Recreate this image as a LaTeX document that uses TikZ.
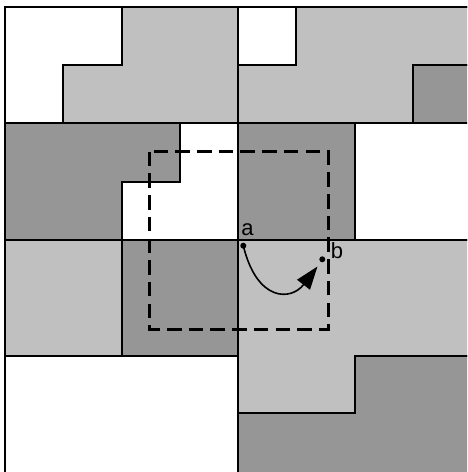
\documentclass[tikz,border=0pt]{standalone}
\usepackage{fontspec}
\setmainfont{Liberation Sans}
\usetikzlibrary{arrows.meta}

\definecolor{lightshade}{RGB}{192,192,192}
\definecolor{darkshade}{RGB}{150,150,150}

\tikzset{
  region/.style={draw=black, line width=2pt, line join=miter},
  light/.style={region, fill=lightshade},
  dark/.style={region, fill=darkshade},
  edge/.style={draw=black, line width=2pt},
  window/.style={draw=black, line width=2.5pt, dash pattern=on 14.5pt off 7.2pt},
  pointdot/.style={circle, fill=black, inner sep=0pt, minimum size=6pt},
  pointlabel/.style={inner sep=0pt, font=\fontsize{22}{22}\selectfont},
  motion/.style={draw=black, line width=1.6pt, -{Triangle[length=23pt,width=16pt]}}
}

\begin{document}
\begin{tikzpicture}[x=1pt, y=-1pt]
  \useasboundingbox (0,0) rectangle (467,472);
  \fill[white] (0,0) rectangle (467,472);
  \clip (0,0) rectangle (467,472);

  % upper left block
  \path[light] (63.3,123.2) -- (63.3,65) -- (121.5,65) -- (121.5,6.7)
               -- (238,6.7) -- (238,123.2) -- cycle;
  \path[dark] (5,123.2) -- (180,123.2) -- (180,182) -- (121.5,182)
              -- (121.5,239.7) -- (5,239.7) -- cycle;

  % upper right block
  \path[light] (238,65) -- (296,65) -- (296,6.7) -- (471,6.7) -- (471,65)
               -- (412.7,65) -- (412.7,123.2) -- (238,123.2) -- cycle;
  \path[dark] (412.7,65) rectangle (471,123.2);
  \path[dark] (238,123.2) rectangle (354.5,239.7);

  % lower left block
  \path[light] (5,239.7) rectangle (121.5,356.2);
  \path[dark] (121.5,239.7) rectangle (238,356.2);

  % lower right block
  \path[light] (238,239.7) -- (471,239.7) -- (471,356.2) -- (354.5,356.2)
               -- (354.5,413.3) -- (238,413.3) -- cycle;
  \path[dark] (354.5,356.2) -- (471,356.2) -- (471,473) -- (238,473)
              -- (238,413.3) -- (354.5,413.3) -- cycle;

  % block boundaries and outer frame
  \draw[edge] (238,6.7) -- (238,473);
  \draw[edge] (5,239.7) -- (471,239.7);
  \draw[edge] (5,6.7) rectangle (471,473);

  % dashed window
  \draw[window] (149.3,151.7) rectangle (328.3,329.3);

  % points and motion
  \node[pointdot] (pa) at (243.3,245.7) {};
  \node[pointdot] (pb) at (322.3,259.3) {};
  \node[pointlabel, anchor=base] (la) at (247.5,235) {a};
  \node[pointlabel, anchor=base] (lb) at (337,258) {b};
  \coordinate (tip) at (317.5,266.5);
  \draw[motion] (pa.center) .. controls (257,302) and (291,301) .. (tip);
\end{tikzpicture}
\end{document}
